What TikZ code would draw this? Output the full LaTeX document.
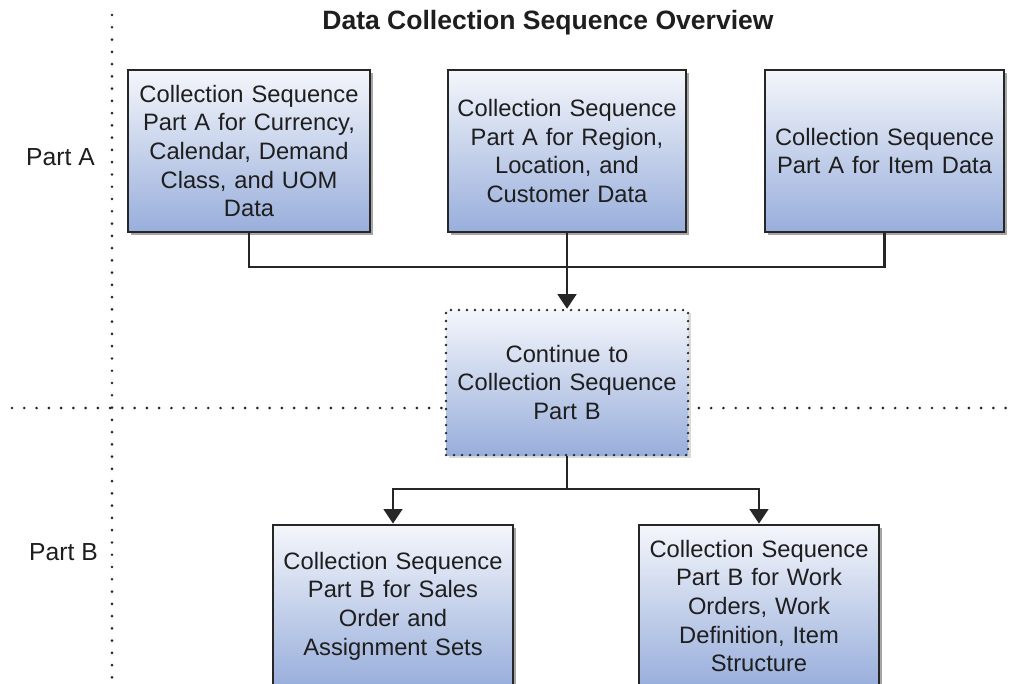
\documentclass[tikz,border=0pt]{standalone}
\usepackage{fontspec}
\setmainfont{Liberation Sans}
\usetikzlibrary{arrows.meta,shadows}
\definecolor{txt}{HTML}{1E1E1E}
\definecolor{edge}{HTML}{262626}
\definecolor{boxtop}{HTML}{F4F6FB}
\definecolor{boxbot}{HTML}{98AEDB}
\tikzset{
  procbox/.style={draw=edge, line width=2pt, top color=boxtop, bottom color=boxbot,
    minimum width=#1, minimum height=162*0.75pt, text width=#1-14pt, align=center,
    inner sep=0pt, text=txt, font=\fontsize{17.8}{21.5}\selectfont,
    drop shadow={shadow xshift=2.5pt, shadow yshift=-2.5pt, fill=black, opacity=0.35}},
  contbox/.style={draw=edge, line width=1.9pt, line cap=round, dash pattern=on 0pt off 6pt,
    top color=boxtop, bottom color=boxbot,
    minimum width=242*0.75pt, minimum height=145*0.75pt, text width=230*0.75pt, align=center,
    inner sep=0pt, text=txt, font=\fontsize{17.8}{21.5}\selectfont,
    drop shadow={shadow xshift=2.5pt, shadow yshift=-2.5pt, fill=black, opacity=0.15}},
  conn/.style={draw=edge, line width=2.1pt},
  arr/.style={conn, -{Triangle[width=14pt,length=11pt]}},
  divider/.style={draw=edge, line width=2.2pt, line cap=round, dash pattern=on 0pt off 9.2pt},
  lbl/.style={text=txt, font=\fontsize{18.5}{22}\selectfont, inner sep=0pt},
}
\begin{document}
\begin{tikzpicture}[x=0.75pt,y=-0.75pt]
\useasboundingbox (0,0) rectangle (1017,683);
\clip (0,0) rectangle (1017,683);
\fill[white] (0,0) rectangle (1017,683);
% dividers
\coordinate (vt) at (112,15);
\coordinate (vb) at (112,690);
\coordinate (hl) at (12,408);
\coordinate (hr) at (1010,408);
\draw[divider] (vt) -- (vb);
\draw[divider] (hl) -- (hr);
% title and labels
\node[text=txt, font=\bfseries\fontsize{19.9}{24}\selectfont, inner sep=0pt] (title) at (548,23) {Data Collection Sequence Overview};
\node[lbl, anchor=east] (pa) at (95,157) {Part A};
\node[lbl, anchor=east] (pb) at (98,552) {Part B};
% boxes
\node[procbox=242*0.75pt] (A1) at (249,151) {Collection Sequence\\Part A for Currency,\\Calendar, Demand\\Class, and UOM\\Data};
\node[procbox=238*0.75pt] (A2) at (567,151) {Collection Sequence\\Part A for Region,\\Location, and\\Customer Data};
\node[procbox=239*0.75pt] (A3) at (884.5,151) {Collection Sequence\\Part A for Item Data};
\node[contbox] (C) at (567,382.5) {Continue to\\Collection Sequence\\Part B};
\node[procbox=240*0.75pt] (B1) at (393,606) {Collection Sequence\\Part B for Sales\\Order and\\Assignment Sets};
\node[procbox=240*0.75pt] (B2) at (759,606) {Collection Sequence\\Part B for Work\\Orders, Work\\Definition, Item\\Structure};
% connectors
\coordinate (j1) at (567,267);
\coordinate (j2) at (567,489);
\draw[conn] (A1.south) |- (j1) -| (A3.south);
\draw[arr] (A2.south) -- (C.north);
\draw[conn] (C.south) -- (j2);
\draw[arr] (j2) -| (B1.north);
\draw[arr] (j2) -| (B2.north);
\end{tikzpicture}
\end{document}
